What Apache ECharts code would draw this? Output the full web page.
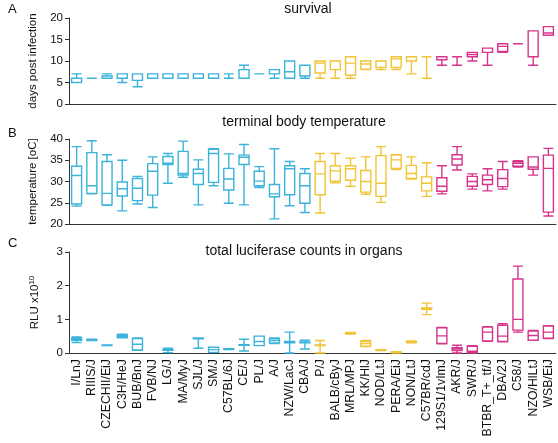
<!DOCTYPE html>
<html><head><meta charset="utf-8">
<script src="https://cdn.jsdelivr.net/npm/echarts@6/dist/echarts.min.js"></script>
<style>html,body{margin:0;padding:0;background:#fff}#c{width:558px;height:443px}</style>
</head><body><div id="c"></div>
<script>
var strains = ['I/LnJ','RIIIS/J','CZECHII/EiJ','C3H/HeJ','BUB/BnJ','FVB/NJ','LG/J','MA/MyJ','SJL/J','SM/J','C57BL/6J','CE/J','PL/J','A/J','NZW/LacJ','CBA/J','P/J','BALB/cByJ','MRL/MPJ','KK/HlJ','NOD/LtJ','PERA/EiJ','NON/LtJ','C57BR/cdJ','129S1/1vImJ','AKR/J','SWR/J','BTBR_T+_tf/J','DBA/2J','C58/J','NZO/HlLtJ','WSB/EiJ'];
var groups = ['cyan','cyan','cyan','cyan','cyan','cyan','cyan','cyan','cyan','cyan','cyan','cyan','cyan','cyan','cyan','cyan','yellow','yellow','yellow','yellow','yellow','yellow','yellow','yellow','magenta','magenta','magenta','magenta','magenta','magenta','magenta','magenta'];
// [min, Q1, median, Q3, max]
var survival = [
 [5,5,5,6,7],[6,6,6,6,6],[6,6,6,6.5,7],[5,6,7,7,7],[4,5.5,7,7,7],
 [6,6,7,7,7],[6,6,7,7,7],[6,6,7,7,7],[6,6,7,7,7],[6,6,6,7,7],
 [6,7,7,7,7],[6,6,6,8,9],[7,7,7,7,7],[6,7,8,8,8],[6,6,7.5,10,10],[6,6.5,6.5,9,9],
 [6,7.2,9.5,10,10],[6,8,10,10,10],[6,6.7,9.5,11,11],[8,8.1,9.3,10,10],[8,8.5,8.5,10,10],[8,8.5,10.5,11,11],[7,10,10,11,11],[6,11,11,11,11],
 [9,10.3,11,11,11],[9,11,11,11,11],[10,11,11.5,12,12],[9,12,12,13,13],[12,12.2,13.4,14,14],[14,14,14,14,14],[9,11,11,17,17],[16,16,16.5,18,18]
];
var temperature = [
 [24.2,24.7,31.4,33.6,38.2],[27.1,27.2,29.0,36.8,39.6],[24.4,24.5,27.2,34.7,36.3],[23.1,26.6,28.3,29.9,35.0],[24.7,25.5,28.4,30.7,31.2],
 [23.9,26.8,32.4,34.2,35.8],[29.6,34.0,34.3,35.9,36.6],[31.0,31.5,31.9,37.1,39.5],[24.5,29.3,31.9,32.9,35.1],[29.0,29.8,36.6,37.6,37.7],
 [24.9,28.0,30.6,33.1,36.5],[24.5,34.0,35.7,36.2,38.7],[28.6,29.0,30.1,32.4,33.5],[21.2,26.4,27.1,29.3,37.7],[24.3,26.9,33.0,33.7,34.7],[22.7,24.9,29.0,31.9,33.0],
 [22.6,26.9,31.8,34.7,36.6],[29.7,30.1,32.5,33.7,36.6],[28.9,30.3,33.0,33.7,35.5],[27.0,27.5,30.0,32.6,35.8],[25.1,26.5,29.6,36.1,38.2],[32.8,33.1,35.1,36.2,36.3],[30.6,30.7,31.9,33.8,35.8],[26.5,27.8,29.6,31.1,34.4],
 [27.1,27.7,28.9,30.9,33.7],[32.7,33.9,35.3,36.3,38.2],[28.2,28.9,30.0,31.2,31.8],[27.8,29.3,30.4,31.5,33.0],[28.2,28.8,30.7,32.8,34.7],[33.4,33.6,34.3,34.7,34.9],[31.5,32.9,33.4,35.8,35.8],[21.9,22.8,33.1,36.2,37.8]
];
var luciferase = [
 [0.31,0.38,0.41,0.44,0.48],[0.37,0.38,0.39,0.40,0.41],[0.22,0.22,0.23,0.23,0.24],[0.45,0.46,0.50,0.54,0.56],[0.08,0.09,0.26,0.43,0.45],
 null,[0.01,0.08,0.09,0.10,0.14],null,[0.14,0.42,0.43,0.45,0.45],[0.02,0.02,0.10,0.17,0.17],
 [0.10,0.11,0.12,0.13,0.13],[0.06,0.23,0.24,0.25,0.41],[0.22,0.22,0.34,0.50,0.50],[0.28,0.30,0.37,0.43,0.45],[0.00,0.30,0.32,0.34,0.62],[0.12,0.30,0.31,0.33,0.38],
 [0.00,0.22,0.23,0.24,0.37],null,[0.56,0.57,0.59,0.60,0.61],[0.19,0.20,0.28,0.35,0.37],[0.07,0.08,0.09,0.10,0.10],[0.00,0.01,0.02,0.03,0.04],[0.30,0.32,0.33,0.34,0.36],[1.14,1.30,1.32,1.34,1.48],
 [0.27,0.28,0.51,0.75,0.76],[0.00,0.07,0.12,0.16,0.23],[0.00,0.01,0.05,0.20,0.22],[0.35,0.36,0.62,0.77,0.78],[0.33,0.34,0.50,0.82,0.87],[0.62,0.68,1.00,2.20,2.58],[0.38,0.38,0.52,0.65,0.67],[0.43,0.44,0.62,0.80,0.81]
];
var yTicksA = {min:0, max:20, interval:5};
var yTicksB = {min:20, max:40, interval:5};
var yTicksC = {min:0, max:3, interval:1};

var colorMap = {cyan:'#3bb3da', yellow:'#f2c437', magenta:'#d7348b'};
var FONT = 'Arial, "Liberation Sans", sans-serif';
var AXC = '#333';

function toData(arr){
  return arr.map(function(v,i){
    if(!v) return {value:['-','-','-','-','-']};
    return {value:v, itemStyle:{borderColor:colorMap[groups[i]], color:'rgba(255,255,255,0)', borderWidth:1.4}};
  });
}
var grids = [
  {left:69, right:2, top:18, height:86},
  {left:69, right:2, top:139, height:85},
  {left:69, right:2, top:252, height:101}
];
function xAx(i, showLabels){
  return {type:'category', gridIndex:i, data:strains, boundaryGap:true,
    axisLine:{lineStyle:{color:AXC, width:1}},
    axisTick:{alignWithLabel:true, length:4, lineStyle:{color:AXC}},
    axisLabel:{show:showLabels, rotate:90, interval:0, fontSize:12.3, color:'#111', fontFamily:FONT, margin:6, overflow:'none'},
    splitLine:{show:false}};
}
function yAx(i, t, name){
  return {type:'value', gridIndex:i, min:t.min, max:t.max, interval:t.interval,
    name:name, nameLocation:'middle', nameGap:27, nameRotate:90,
    nameTextStyle:{fontSize:11.5, color:'#111', fontFamily:FONT, rich:{sup:{fontSize:8, verticalAlign:'top', color:'#111', fontFamily:FONT, padding:[0,0,6,0]}}},
    axisLine:{show:true, lineStyle:{color:AXC, width:1}},
    axisTick:{show:true, length:4, lineStyle:{color:AXC}},
    axisLabel:{fontSize:11.5, color:'#111', fontFamily:FONT, margin:6},
    splitLine:{show:false}};
}
function txt(x,y,s,size,align){
  return {type:'text', x:x, y:y, style:{text:s, font:size+'px '+FONT, fill:'#111', textAlign:align||'left', textVerticalAlign:'middle', align:align||'left', verticalAlign:'middle'}};
}
var chart = echarts.init(document.getElementById('c'), null, {renderer:'canvas'});
chart.setOption({
  animation:false,
  grid:grids,
  xAxis:[xAx(0,false), xAx(1,false), xAx(2,true)],
  yAxis:[yAx(0,yTicksA,'days post infection'), yAx(1,yTicksB,'temperature [oC]'), yAx(2,yTicksC,'RLU x10{sup|10}')],
  graphic:[
    txt(8,9,'A',13), txt(8,133,'B',13), txt(8,243,'C',13),
    txt(308,9,'survival',14,'center'),
    txt(304,122,'terminal body temperature',14,'center'),
    txt(304,251,'total luciferase counts in organs',14,'center')
  ],
  series:[
    {type:'boxplot', xAxisIndex:0, yAxisIndex:0, boxWidth:[10,10], data:toData(survival)},
    {type:'boxplot', xAxisIndex:1, yAxisIndex:1, boxWidth:[10,10], data:toData(temperature)},
    {type:'boxplot', xAxisIndex:2, yAxisIndex:2, boxWidth:[10,10], data:toData(luciferase)}
  ]
});
</script></body></html>
